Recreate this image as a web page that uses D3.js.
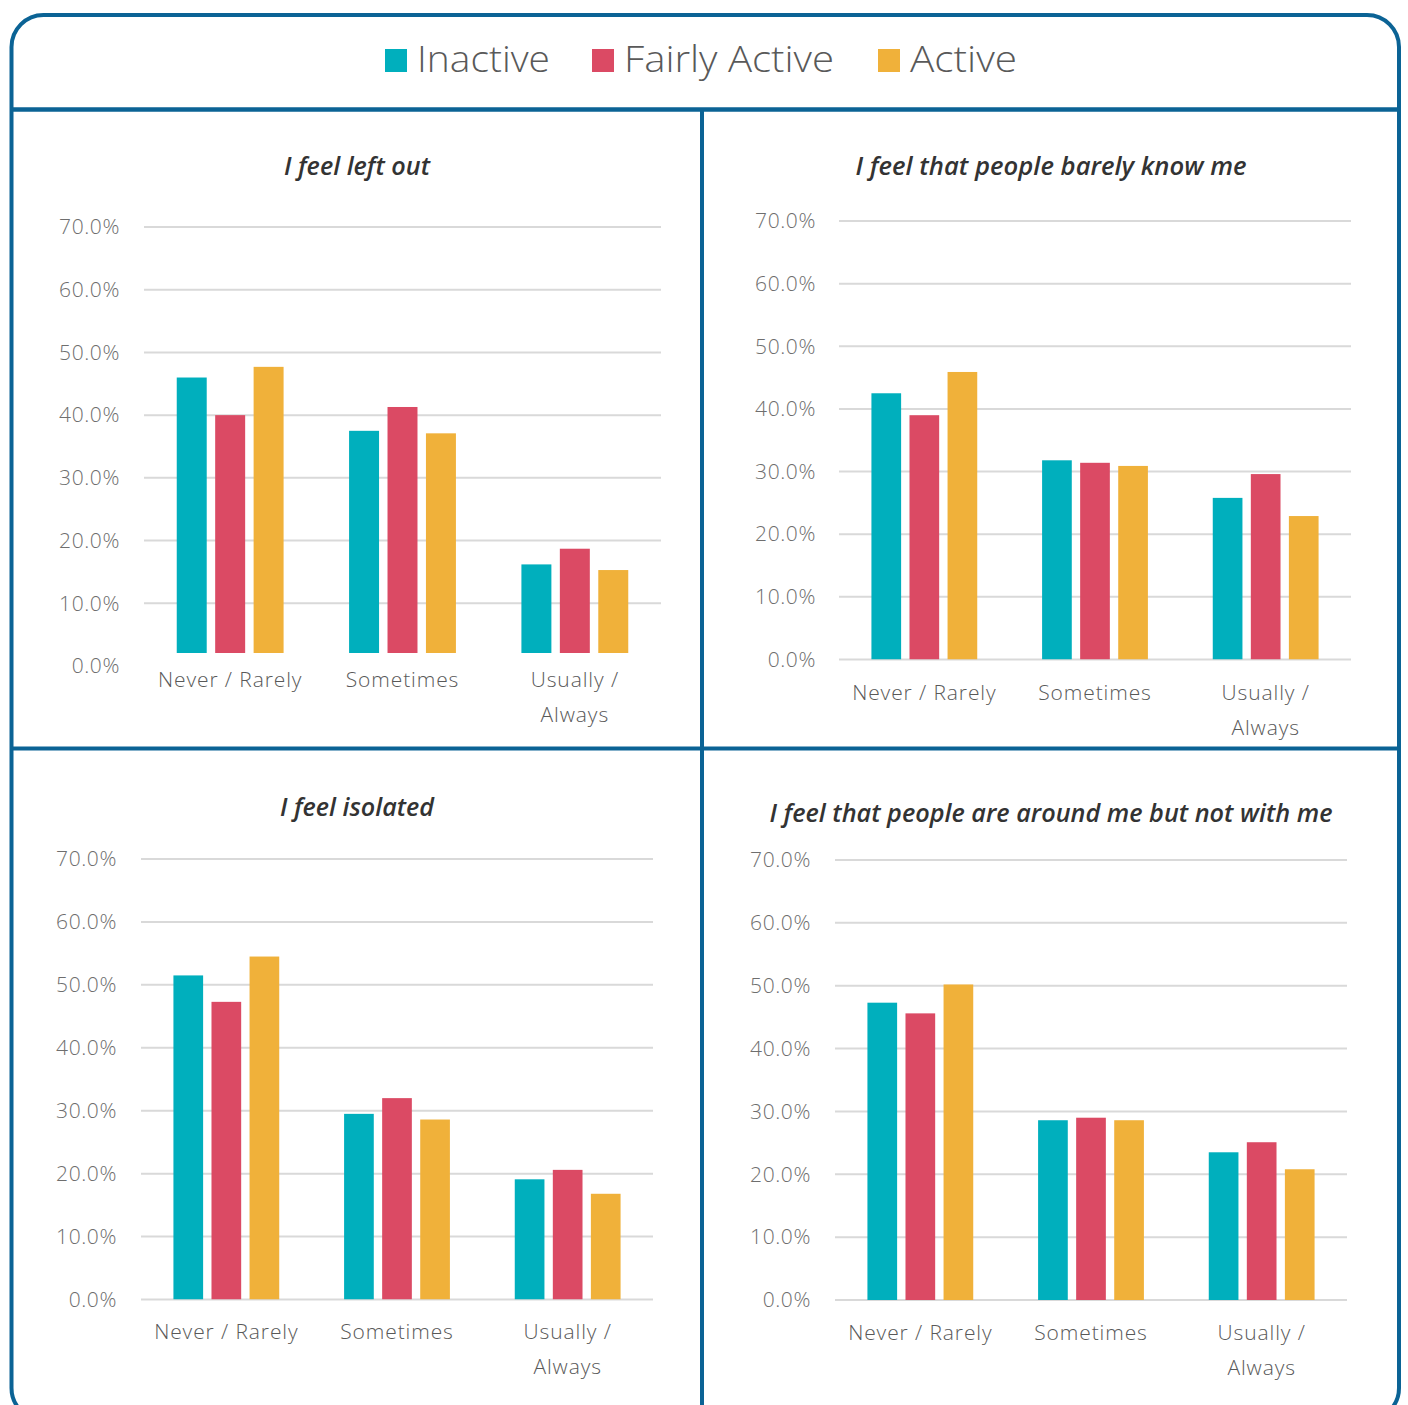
<!DOCTYPE html>
<html>
<head>
<meta charset="utf-8">
<script src="https://cdn.jsdelivr.net/npm/d3@7"></script>
<style>
  html, body { margin: 0; padding: 0; background: #fff; }
  svg { display: block; }
</style>
</head>
<body>
<svg id="chart" width="1408" height="1405"></svg>
<script>
// Loneliness responses by activity level (share of respondents)
const series = ["Inactive", "Fairly Active", "Active"];
const categories = [["Never / Rarely"], ["Sometimes"], ["Usually /", "Always"]];
const titles = [
  "I feel left out",
  "I feel that people barely know me",
  "I feel isolated",
  "I feel that people are around me but not with me"
];
const tickValues = [0, 10, 20, 30, 40, 50, 60, 70];

// values[series][category], in percent
const leftOut = [[46.0, 37.5, 16.2], [40.0, 41.3, 18.7], [47.7, 37.1, 15.3]];
const barelyKnow = [[42.5, 31.8, 25.8], [39.0, 31.4, 29.6], [45.9, 30.9, 22.9]];
const isolated = [[51.5, 29.5, 19.1], [47.3, 32.0, 20.6], [54.5, 28.6, 16.8]];
const aroundNotWith = [[47.3, 28.6, 23.5], [45.6, 29.0, 25.1], [50.2, 28.6, 20.8]];
const panelData = [leftOut, barelyKnow, isolated, aroundNotWith];

const colors = ["#00AFBD", "#DB4A64", "#F0B13A"];
const frameBlue = "#0B6395";

// layout of the four panels
const panels = [
  { titleX: 357, titleY: 175, x0: 144, x1: 661, yZero: 666, yTop: 227, clipBottom: 653, zeroLine: false, tickRight: 120, labelY: 680 },
  { titleX: 1051, titleY: 175, x0: 839, x1: 1351, yZero: 659.5, yTop: 221, clipBottom: 659.5, zeroLine: true, tickRight: 816, labelY: 693 },
  { titleX: 357, titleY: 816, x0: 141, x1: 653, yZero: 1299.5, yTop: 859, clipBottom: 1299.5, zeroLine: true, tickRight: 117, labelY: 1332 },
  { titleX: 1051, titleY: 822, x0: 835, x1: 1347, yZero: 1300, yTop: 860, clipBottom: 1300, zeroLine: true, tickRight: 811, labelY: 1333 }
];

const svg = d3.select("#chart");
const textFont = "'Open Sans', 'DejaVu Sans', sans-serif";

// frame
svg.append("rect")
  .attr("x", 11.5).attr("y", 15).attr("width", 1387.5).attr("height", 1405)
  .attr("rx", 32).attr("ry", 32)
  .attr("fill", "none").attr("stroke", frameBlue).attr("stroke-width", 4);
svg.append("line").attr("x1", 11).attr("x2", 1399).attr("y1", 109.5).attr("y2", 109.5)
  .attr("stroke", frameBlue).attr("stroke-width", 4.5);
svg.append("line").attr("x1", 11).attr("x2", 1399).attr("y1", 748.5).attr("y2", 748.5)
  .attr("stroke", frameBlue).attr("stroke-width", 4);
svg.append("line").attr("x1", 702).attr("x2", 702).attr("y1", 110).attr("y2", 1405)
  .attr("stroke", frameBlue).attr("stroke-width", 4);

// legend
const legendX = [385, 592, 878];
const legendW = [133, 210, 107];
const legend = svg.append("g");
series.forEach((s, i) => {
  legend.append("rect")
    .attr("x", legendX[i]).attr("y", 49).attr("width", 22).attr("height", 23)
    .attr("fill", colors[i]);
  legend.append("text")
    .attr("x", legendX[i] + 32).attr("y", 72)
    .attr("font-family", textFont).attr("font-weight", 300)
    .attr("font-size", 36).attr("fill", "#595959")
    .attr("textLength", legendW[i]).attr("lengthAdjust", "spacingAndGlyphs")
    .text(s);
});

const titleWidths = [146, 391, 154, 563];

panels.forEach((p, k) => {
  const data = panelData[k];
  const g = svg.append("g");

  const y = d3.scaleLinear().domain([0, 70]).range([p.yZero, p.yTop]);
  const x0 = d3.scaleBand().domain(d3.range(categories.length)).range([p.x0, p.x1]).padding(0);
  const groupW = x0.bandwidth() * 0.62;
  const x1 = d3.scaleBand().domain(d3.range(series.length)).range([0, groupW]).paddingInner(0.22);

  // title
  g.append("text")
    .attr("x", p.titleX).attr("y", p.titleY)
    .attr("text-anchor", "middle")
    .attr("font-family", "'Open Sans', sans-serif")
    .attr("font-style", "italic").attr("font-weight", 600)
    .attr("font-size", 26).attr("fill", "#333")
    .attr("textLength", titleWidths[k]).attr("lengthAdjust", "spacingAndGlyphs")
    .text(titles[k]);

  // gridlines
  const gridTicks = p.zeroLine ? tickValues : tickValues.filter(v => v > 0);
  g.selectAll("line.grid").data(gridTicks).join("line")
    .attr("class", "grid")
    .attr("x1", p.x0).attr("x2", p.x1)
    .attr("y1", d => y(d)).attr("y2", d => y(d))
    .attr("stroke", "#D9D9D9").attr("stroke-width", 2);

  // value axis labels
  const axis = d3.axisLeft(y).tickValues(tickValues).tickSize(0).tickPadding(0)
    .tickFormat(d => d3.format(".1f")(d) + "%");
  const ax = g.append("g").attr("transform", `translate(${p.tickRight},0)`).call(axis);
  ax.select(".domain").remove();
  ax.selectAll("text")
    .attr("font-family", textFont).attr("font-weight", 300)
    .attr("font-size", 21).attr("letter-spacing", 0.6).attr("fill", "#6E6E6E");

  // bars (clipped to the plot area)
  const clipId = "clip" + k;
  svg.append("clipPath").attr("id", clipId).append("rect")
    .attr("x", p.x0).attr("y", p.yTop - 60)
    .attr("width", p.x1 - p.x0).attr("height", p.clipBottom - p.yTop + 60);

  const bars = g.append("g").attr("clip-path", `url(#${clipId})`);
  categories.forEach((c, ci) => {
    const gx = x0(ci) + (x0.bandwidth() - groupW) / 2;
    series.forEach((s, si) => {
      const v = data[si][ci];
      bars.append("rect")
        .attr("x", gx + x1(si))
        .attr("y", y(v))
        .attr("width", x1.bandwidth())
        .attr("height", y(0) - y(v))
        .attr("fill", colors[si]);
    });

    // category label
    const t = g.append("text")
      .attr("x", x0(ci) + x0.bandwidth() / 2)
      .attr("y", p.labelY)
      .attr("text-anchor", "middle")
      .attr("font-family", textFont).attr("font-weight", 300)
      .attr("font-size", 21).attr("letter-spacing", 0.9).attr("fill", "#595959");
    c.forEach((line, li) => {
      t.append("tspan")
        .attr("x", x0(ci) + x0.bandwidth() / 2)
        .attr("dy", li === 0 ? "0.35em" : 35)
        .text(line);
    });
  });
});
</script>
</body>
</html>
